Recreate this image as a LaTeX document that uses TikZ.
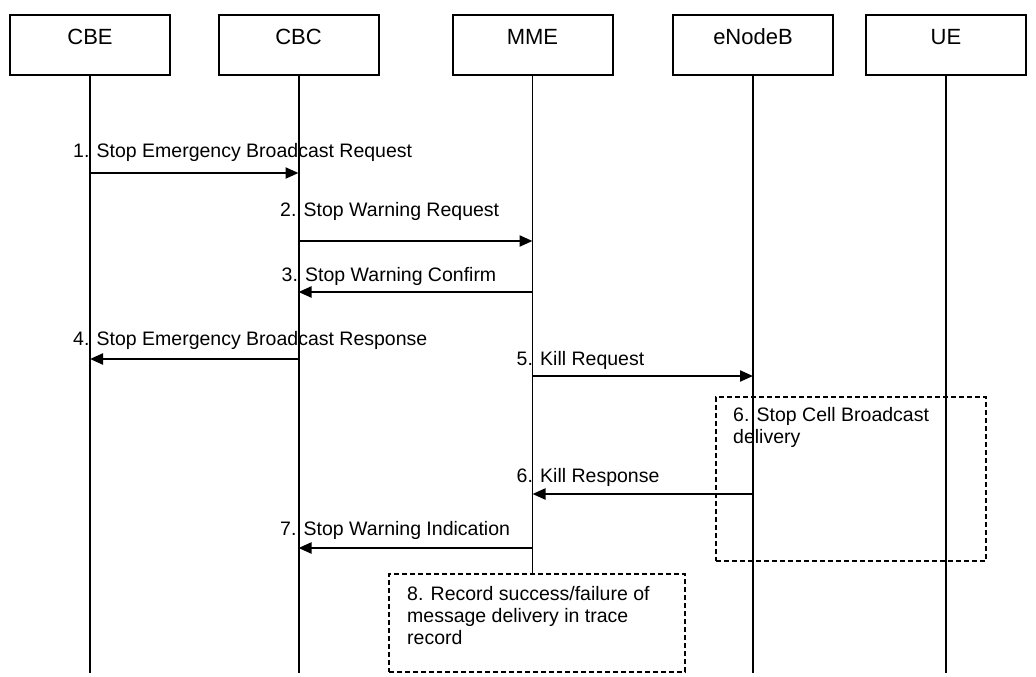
\documentclass[tikz,border=0pt]{standalone}
\usepackage{fontspec}
\setmainfont{Liberation Sans}
\usetikzlibrary{arrows.meta}
\begin{document}
\begin{tikzpicture}[x=1pt,y=-1pt,
  actor/.style={draw,line width=2pt,minimum width=160pt,minimum height=60pt,inner sep=0pt,
    font=\fontsize{22}{26}\selectfont,text height=16pt,text depth=16pt},
  life/.style={line width=2pt},
  thinlife/.style={line width=1.2pt},
  msg/.style={line width=2.2pt,-{Triangle[length=13pt,width=11pt]}},
  lbl/.style={anchor=base west,inner sep=0pt,font=\fontsize{19.5}{22}\selectfont},
  note/.style={draw,line width=1.8pt,dash pattern=on 5pt off 3pt,inner sep=0pt},
  notetext/.style={anchor=base west,inner sep=0pt,align=left,font=\fontsize{19.5}{22}\selectfont}]
\useasboundingbox (0,0) rectangle (1036,677);
\fill[white] (0,0) rectangle (1036,677);
% actors
\node[actor] (cbe) at (90,45) {CBE};
\node[actor] (cbc) at (298.5,45) {CBC};
\node[actor] (mme) at (532.5,45) {MME};
\node[actor] (enb) at (753,45) {eNodeB};
\node[actor] (ue) at (946,45) {UE};
% note boxes
\node[note,minimum width=270pt,minimum height=164pt] (b6) at (851,479) {};
\node[note,fill=white,minimum width=296pt,minimum height=98pt] (b8) at (537,623) {};
% lifeline ends
\coordinate (cbeE) at (cbe.south |- 0,673);
\coordinate (cbcE) at (cbc.south |- 0,673);
\coordinate (enbE) at (enb.south |- 0,673);
\coordinate (ueE) at (ue.south |- 0,673);
\coordinate (mmeE) at (mme.south |- b8.north);
\draw[life] (cbe.south) -- (cbeE);
\draw[life] (cbc.south) -- (cbcE);
\draw[thinlife] (mme.south) -- (mmeE);
\draw[thinlife] (enb.south) -- (enbE);
\draw[life] (ue.south) -- (ueE);
% message end points
\coordinate (a1s) at (cbe.south |- 0,173);  \coordinate (a1e) at (cbc.south |- 0,173);
\coordinate (a2s) at (cbc.south |- 0,241);  \coordinate (a2e) at (mme.south |- 0,241);
\coordinate (a3s) at (mme.south |- 0,292);  \coordinate (a3e) at (cbc.south |- 0,292);
\coordinate (a4s) at (cbc.south |- 0,359);  \coordinate (a4e) at (cbe.south |- 0,359);
\coordinate (a5s) at (mme.south |- 0,376);  \coordinate (a5e) at (enb.south |- 0,376);
\coordinate (a6s) at (enb.south |- 0,494);  \coordinate (a6e) at (mme.south |- 0,494);
\coordinate (a7s) at (mme.south |- 0,548);  \coordinate (a7e) at (cbc.south |- 0,548);
\draw[msg] (a1s) -- (a1e);
\draw[msg] (a2s) -- (a2e);
\draw[msg] (a3s) -- (a3e);
\draw[msg] (a4s) -- (a4e);
\draw[msg] (a5s) -- (a5e);
\draw[msg] (a6s) -- (a6e);
\draw[msg] (a7s) -- (a7e);
% labels
\node[lbl] (l1) at (73,157) {1. Stop Emergency Broadcast Request};
\node[lbl] (l2) at (280,216) {2. Stop Warning Request};
\node[lbl] (l3) at (281.5,281) {3. Stop Warning Confirm};
\node[lbl] (l4) at (73,345) {4. Stop Emergency Broadcast Response};
\node[lbl] (l5) at (516.5,365) {5. Kill Request};
\node[lbl] (l6) at (516.5,482) {6. Kill Response};
\node[lbl] (l7) at (280,535) {7. Stop Warning Indication};
\node[notetext] (t6) at (733,443) {6. Stop Cell Broadcast\\delivery};
\node[notetext] (t8) at (407,644) {8. Record success/failure of\\message delivery in trace\\record};
\end{tikzpicture}
\end{document}
